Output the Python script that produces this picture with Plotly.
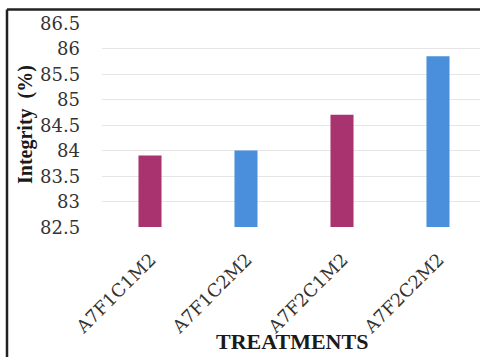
import plotly.graph_objects as go

# Treatment labels and measured integrity (%)
treatments = ["A7F1C1M2", "A7F1C2M2", "A7F2C1M2", "A7F2C2M2"]
integrity = [83.9, 84.0, 84.7, 85.85]
bar_colors = ["#A8336F", "#4A8FDB", "#A8336F", "#4A8FDB"]
y_ticks = [82.5, 83, 83.5, 84, 84.5, 85, 85.5, 86, 86.5]
y_tick_text = ["82.5", "83", "83.5", "84", "84.5", "85", "85.5", "86", "86.5"]

AXIS_FLOOR = 82.5
serif = "Liberation Serif"
tick_serif = "DejaVu Serif"

# pixel geometry of the plotting area
PLOT_L, PLOT_W = 102, 378
PLOT_T, PLOT_H = 23, 204


def px_to_paper_x(px):
    return (px - PLOT_L) / PLOT_W


def px_to_paper_y(py):
    return (PLOT_T + PLOT_H - py) / PLOT_H


fig = go.Figure(
    go.Bar(
        x=list(range(len(treatments))),
        y=[v - AXIS_FLOOR for v in integrity],  # heights measured from the axis floor
        base=AXIS_FLOOR,
        marker=dict(color=bar_colors, line=dict(width=0)),
        width=0.24,
    )
)

# serif tick labels, placed on the axes' own tick positions
tick_annotations = []
for i, name in enumerate(treatments):
    tick_annotations.append(dict(
        text=name, xref="x", yref="paper",
        x=i, y=px_to_paper_y(293), xshift=-35,
        xanchor="center", yanchor="middle",
        textangle=-45, showarrow=False,
        font=dict(size=18, family=tick_serif, color="#333333"),
    ))
for val, label in zip(y_ticks, y_tick_text):
    tick_annotations.append(dict(
        text=label, xref="paper", yref="y",
        x=px_to_paper_x(82), y=val,
        xanchor="right", yanchor="middle",
        showarrow=False,
        font=dict(size=18, family=tick_serif, color="#333333"),
    ))

fig.update_layout(
    template="none",
    width=480,
    height=357,
    margin=dict(l=PLOT_L, r=0, t=PLOT_T, b=357 - PLOT_T - PLOT_H),
    paper_bgcolor="white",
    plot_bgcolor="white",
    showlegend=False,
    font=dict(family=serif, color="#2a2a2a"),
    xaxis=dict(
        range=[-0.5, 3.4375],
        tickmode="array",
        tickvals=list(range(len(treatments))),
        ticktext=treatments,
        showticklabels=False,
        showgrid=False,
        zeroline=False,
        showline=False,
        ticks="",
    ),
    yaxis=dict(
        range=[82.5, 86.5],
        tickmode="array",
        tickvals=y_ticks,
        ticktext=y_tick_text,
        showticklabels=False,
        showgrid=True,
        gridcolor="#e6e6e6",
        gridwidth=1,
        zeroline=False,
        showline=False,
        ticks="",
    ),
    annotations=tick_annotations + [
        dict(
            text="<b>Integrity  (%)</b>",
            xref="paper", yref="paper",
            x=px_to_paper_x(25), y=0.5,
            xanchor="center", yanchor="middle",
            textangle=-90, showarrow=False,
            font=dict(size=20, family=serif, color="#1a1a1a"),
        ),
        dict(
            text="<b>TREATMENTS</b>",
            xref="paper", yref="paper",
            x=px_to_paper_x(292), y=px_to_paper_y(341),
            xanchor="center", yanchor="middle",
            showarrow=False,
            font=dict(size=22, family=serif, color="#1a1a1a"),
        ),
    ],
    shapes=[
        # frame around the figure: left edge and top edge
        dict(type="line", xref="paper", yref="paper",
             x0=px_to_paper_x(7), x1=px_to_paper_x(7),
             y0=px_to_paper_y(357), y1=px_to_paper_y(9.5),
             line=dict(color="#222222", width=2.5)),
        dict(type="line", xref="paper", yref="paper",
             x0=px_to_paper_x(7), x1=1.0,
             y0=px_to_paper_y(9.5), y1=px_to_paper_y(9.5),
             line=dict(color="#222222", width=2.5)),
    ],
)

fig.write_html("out.html")
